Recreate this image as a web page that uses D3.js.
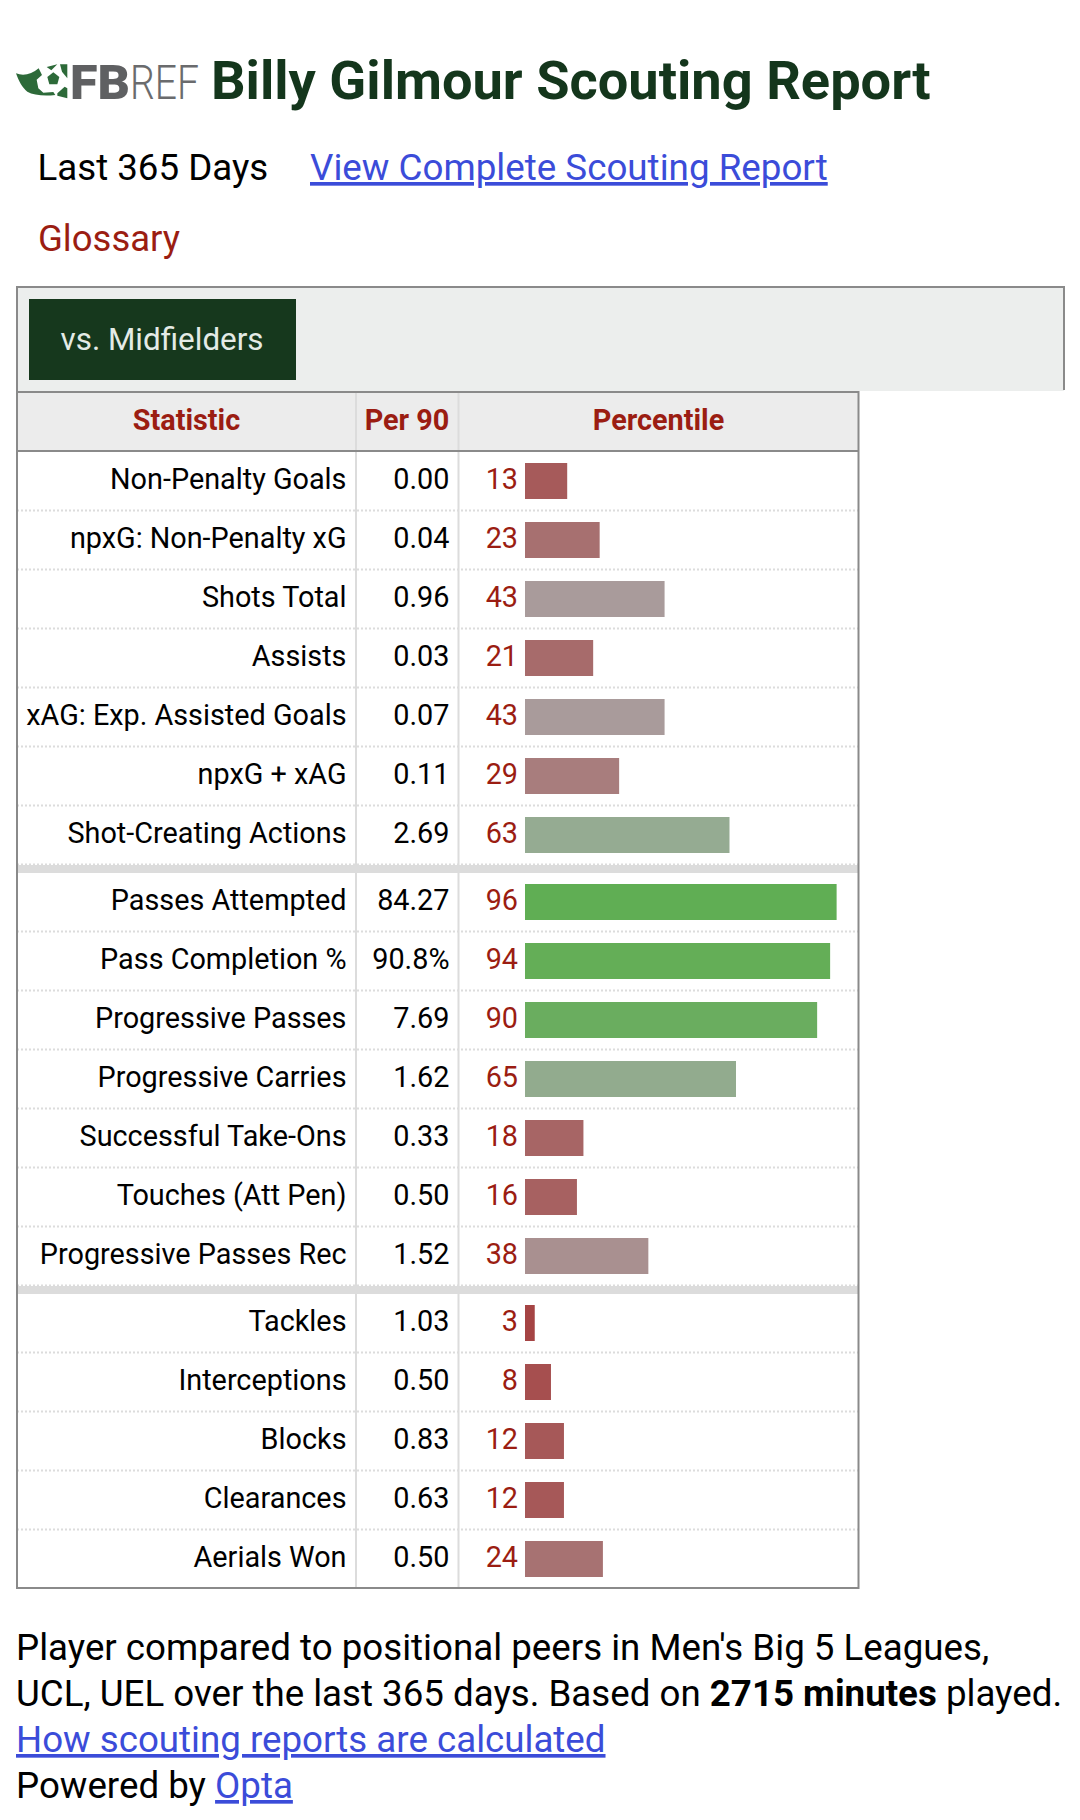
<!DOCTYPE html>
<html>
<head>
<meta charset="utf-8">
<script src="https://cdn.jsdelivr.net/npm/d3@7"></script>
<style>
  html, body { margin: 0; padding: 0; background: #fff; }
  svg { display: block; font-family: Roboto, sans-serif; }
</style>
</head>
<body>
<div id="chart"></div>
<script>
// chart values
var statNames = ["Non-Penalty Goals", "npxG: Non-Penalty xG", "Shots Total", "Assists", "xAG: Exp. Assisted Goals", "npxG + xAG", "Shot-Creating Actions",
  "Passes Attempted", "Pass Completion %", "Progressive Passes", "Progressive Carries", "Successful Take-Ons", "Touches (Att Pen)", "Progressive Passes Rec",
  "Tackles", "Interceptions", "Blocks", "Clearances", "Aerials Won"];
var per90 = ["0.00", "0.04", "0.96", "0.03", "0.07", "0.11", "2.69",
  "84.27", "90.8%", "7.69", "1.62", "0.33", "0.50", "1.52",
  "1.03", "0.50", "0.83", "0.63", "0.50"];
var percentiles = [13, 23, 43, 21, 43, 29, 63,
  96, 94, 90, 65, 18, 16, 38,
  3, 8, 12, 12, 24];
var groupSizes = [7, 7, 5];
var columnHeads = ["Statistic", "Per 90", "Percentile"];

var darkGreen = "#14361c", darkRed = "#9b1d12", linkBlue = "#3b4cd9", borderGrey = "#8a8a8a", lineGrey = "#dcdcdc";

var svg = d3.select("#chart").append("svg").attr("width", 1080).attr("height", 1820);

function label(txt, x, y, size, fill, anchor, weight) {
  return svg.append("text").attr("x", x).attr("y", y)
    .attr("font-size", size).attr("fill", fill)
    .attr("text-anchor", anchor || "start")
    .attr("font-weight", weight || 400)
    .text(txt);
}
function link(txt, x, y, size) {
  return label(txt, x, y, size, linkBlue).attr("text-decoration", "underline");
}

// logo, traced at 3x
var logoG = svg.append("g").attr("transform", "translate(10,55) scale(0.3333)").attr("fill", "#2d6a39");
logoG.append("path")
  .attr("d", "M18,55 C40,64 65,58 86,40 L96,60 L80,74 L85,100 L100,113 L130,111 L136,120 C100,124 70,120 52,110 C36,98 26,78 18,55 Z");
logoG.append("path").attr("d", "M110,36 L142,28 L124,46 Z");
logoG.append("path").attr("d", "M150,28 L172,28 L172,70 L156,50 Z");
logoG.append("path").attr("d", "M130,52 L148,66 L142,88 L118,88 L112,66 Z");
logoG.append("path").attr("d", "M142,115 L164,95 L172,100 L172,130 L142,122 Z");
label("FB", 70, 98.5, 49, "#5f6062", "start", 900).attr("textLength", 60).attr("lengthAdjust", "spacingAndGlyphs");
label("REF", 130, 98.5, 49, "#6a6b6d", "start", 300).attr("textLength", 69).attr("lengthAdjust", "spacingAndGlyphs");

// title and links
label("Billy Gilmour Scouting Report", 211, 99, 54.2, darkGreen, "start", 700);
label("Last 365 Days", 37.5, 180, 36.7, "#000");
link("View Complete Scouting Report", 310, 180, 36.75);
label("Glossary", 38, 251, 36.5, darkRed);

// switcher box, open at the bottom
svg.append("rect").attr("x", 17).attr("y", 287).attr("width", 1047).attr("height", 104).attr("fill", "#eceeed");
svg.append("path").attr("fill", "none").attr("stroke", borderGrey).attr("stroke-width", 2)
  .attr("d", "M17,391 V287 H1064 V390");
svg.append("rect").attr("x", 29).attr("y", 299).attr("width", 267).attr("height", 81).attr("fill", "#16381d");
label("vs. Midfielders", 60.5, 350, 31.4, "#e4ebe6");

// table
var tableL = 17, tableR = 858.5, col1 = 355.5, col2 = 458;
var tableTop = 392, headBottom = 451, rowH = 59, bandH = 8;

svg.append("rect").attr("x", tableL).attr("y", tableTop).attr("width", tableR - tableL).attr("height", headBottom - tableTop).attr("fill", "#ececec");

label(columnHeads[0], 186.5, 430, 28.8, darkRed, "middle", 700);
label(columnHeads[1], 407, 430, 28.8, darkRed, "middle", 700);
label(columnHeads[2], 658.5, 430, 28.8, darkRed, "middle", 700);

// one band scale per group of rows
var groups = [], start = 0, top0 = headBottom + 1;
groupSizes.forEach(function(n, g) {
  var idx = d3.range(start, start + n);
  var y = d3.scaleBand().domain(idx).range([top0, top0 + n * rowH]);
  groups.push({ idx: idx, y: y, top: top0, bottom: top0 + n * rowH });
  start += n;
  top0 += n * rowH + bandH;
});

var xBar = d3.scaleLinear().domain([0, 100]).range([525, 849.6]);
var barColor = d3.scaleLinear().domain([0, 50, 100]).range(["#a53e3e", "#aaaaaa", "#5aae4c"]);

var bottom = groups[groups.length - 1].bottom - 1;

// column lines go under the row dots
[col1 + 0.5, col2 + 0.5].forEach(function(x) {
  svg.append("line").attr("x1", x).attr("x2", x).attr("y1", tableTop).attr("y2", bottom)
    .attr("stroke", lineGrey).attr("stroke-width", 2);
});

groups.forEach(function(grp, g) {
  var rows = svg.append("g").selectAll("g").data(grp.idx).join("g")
    .attr("transform", function(i) { return "translate(0," + grp.y(i) + ")"; });

  rows.append("line").attr("x1", tableL).attr("x2", tableR)
    .attr("y1", rowH - 0.5).attr("y2", rowH - 0.5)
    .attr("stroke", lineGrey).attr("stroke-width", 2).attr("stroke-dasharray", "2,2")
    .style("display", function(i) { return i == grp.idx[grp.idx.length - 1] && g == groups.length - 1 ? "none" : null; });

  rows.append("text").attr("x", 346.5).attr("y", 37).attr("font-size", 28.8).attr("text-anchor", "end").attr("fill", "#000")
    .text(function(i) { return statNames[i]; });
  rows.append("text").attr("x", 449.5).attr("y", 37).attr("font-size", 28.8).attr("text-anchor", "end").attr("fill", "#000")
    .text(function(i) { return per90[i]; });
  rows.append("text").attr("x", 518).attr("y", 37).attr("font-size", 28.8).attr("text-anchor", "end").attr("fill", darkRed)
    .text(function(i) { return percentiles[i]; });

  rows.append("rect").attr("x", xBar(0)).attr("y", 11).attr("height", 36)
    .attr("width", function(i) { return xBar(percentiles[i]) - xBar(0); })
    .attr("fill", function(i) { return barColor(percentiles[i]); });

  // thick band between groups
  if (g < groups.length - 1) {
    svg.append("rect").attr("x", tableL).attr("y", grp.bottom).attr("width", tableR - tableL).attr("height", bandH).attr("fill", lineGrey);
  }
});

// table outline and header rules
svg.append("rect").attr("x", tableL).attr("y", tableTop).attr("width", tableR - tableL).attr("height", bottom - tableTop)
  .attr("fill", "none").attr("stroke", borderGrey).attr("stroke-width", 2);
svg.append("line").attr("x1", tableL).attr("x2", tableR).attr("y1", headBottom).attr("y2", headBottom)
  .attr("stroke", borderGrey).attr("stroke-width", 2);

// footer notes
label("Player compared to positional peers in Men's Big 5 Leagues,", 16, 1660, 36.7, "#000");
var line2 = label("UCL, UEL over the last 365 days. Based on ", 16, 1706, 36.7, "#000");
line2.append("tspan").attr("font-weight", 700).text("2715 minutes");
line2.append("tspan").text(" played.");
link("How scouting reports are calculated", 16, 1752, 36.7);
var line4 = label("Powered by ", 16, 1798, 36.7, "#000");
line4.append("tspan").attr("fill", linkBlue).attr("text-decoration", "underline").text("Opta");
</script>
</body>
</html>
